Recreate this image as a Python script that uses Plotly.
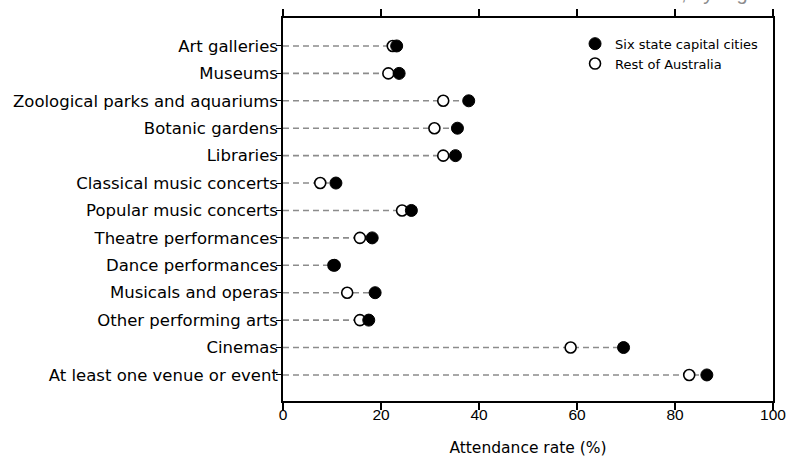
import plotly.graph_objects as go

categories = [
    "Art galleries", "Museums", "Zoological parks and aquariums", "Botanic gardens",
    "Libraries", "Classical music concerts", "Popular music concerts",
    "Theatre performances", "Dance performances", "Musicals and operas",
    "Other performing arts", "Cinemas", "At least one venue or event",
]
capital_cities = [23.2, 23.7, 37.9, 35.6, 35.2, 10.8, 26.2, 18.2, 10.5, 18.8, 17.5, 69.5, 86.5]
rest_of_australia = [22.4, 21.5, 32.7, 30.9, 32.7, 7.6, 24.3, 15.7, 10.3, 13.1, 15.7, 58.7, 82.9]
x_ticks = [0, 20, 40, 60, 80, 100]

FONT = "DejaVu Sans"
NUMFONT = "Liberation Sans"

# dashed guide lines from 0 to the larger value
lx, ly = [], []
for c, a, b in zip(categories, capital_cities, rest_of_australia):
    lx += [0, max(a, b), None]
    ly += [c, c, None]

fig = go.Figure()
fig.add_trace(go.Scatter(
    x=lx, y=ly, mode="lines", showlegend=False, hoverinfo="skip",
    line=dict(color="#8c8c8c", width=1.6, dash="6px,4px"),
))
fig.add_trace(go.Scatter(
    x=rest_of_australia, y=categories, mode="markers", name="Rest of Australia",
    legendrank=2,
    marker=dict(symbol="circle", size=11, color="white", line=dict(color="black", width=1.6)),
))
fig.add_trace(go.Scatter(
    x=capital_cities, y=categories, mode="markers", name="Six state capital cities",
    legendrank=1,
    marker=dict(symbol="circle", size=12, color="black", line=dict(color="black", width=1)),
))

fig.add_annotation(
    text="Attendance at selected cultural venues and events, by region",
    xref="paper", yref="paper", x=1.006, y=1.031, xanchor="right", yanchor="bottom",
    showarrow=False, font=dict(family=NUMFONT, size=20, color="#8c8c8c"),
)

fig.update_layout(
    width=791, height=457,
    margin=dict(l=283, r=18, t=18, b=56, autoexpand=False),
    paper_bgcolor="white", plot_bgcolor="white",
    font=dict(family=FONT, size=16, color="black"),
    legend=dict(
        x=0.596, y=0.972, xanchor="left", yanchor="top",
        font=dict(family=FONT, size=13, color="black"),
        bgcolor="rgba(0,0,0,0)", itemwidth=30, tracegroupgap=0,
    ),
    xaxis=dict(
        range=[0, 100], tickvals=x_ticks, ticktext=[str(t) for t in x_ticks],
        showgrid=False, zeroline=False, automargin=False,
        showline=True, linecolor="black", linewidth=1.5, mirror="ticks",
        ticks="outside", ticklen=7, tickwidth=1.5, tickcolor="black",
        ticklabelstandoff=-8,
        tickfont=dict(family=NUMFONT, size=15.5),
        title=dict(text="Attendance rate (%)", font=dict(family=FONT, size=15.5), standoff=23),
    ),
    yaxis=dict(
        type="category", categoryorder="array", categoryarray=categories,
        range=[12.95, -1.02], automargin=False,
        showgrid=False, zeroline=False,
        showline=True, linecolor="black", linewidth=1.5, mirror=True,
        ticks="outside", ticklen=5, tickwidth=1.2, tickcolor="black",
        ticklabelstandoff=-5,
        tickfont=dict(family=FONT, size=16.5),
    ),
)

fig.write_html(
    "out.html",
    config={"displayModeBar": False},
    post_script="document.body.style.margin='0';document.body.style.overflow='hidden';",
)
